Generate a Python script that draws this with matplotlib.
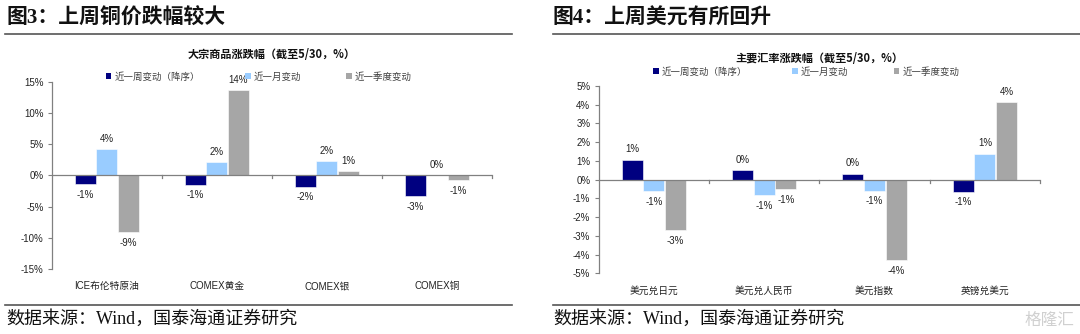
import matplotlib.pyplot as plt
from matplotlib.patches import Patch
from matplotlib.lines import Line2D
import numpy as np

# %%
# data (percent)
series_names = ['近一周变动（降序）', '近一月变动', '近一季度变动']
colors = ['#000080', '#99CCFF', '#A6A6A6']

comm_cats = ['ICE布伦特原油', 'COMEX黄金', 'COMEX银', 'COMEX铜']
comm_week = [-1.4, -1.45, -1.8, -3.3]
comm_month = [4.2, 2.1, 2.3, 0.03]
comm_quarter = [-9.1, 13.7, 0.65, -0.8]

fx_cats = ['美元兑日元', '美元兑人民币', '美元指数', '英镑兑美元']
fx_week = [1.06, 0.5, 0.32, -0.64]
fx_month = [-0.62, -0.83, -0.6, 1.38]
fx_quarter = [-2.7, -0.52, -4.3, 4.13]

lat = ['Liberation Sans', 'Noto Sans CJK SC']
ser = ['Liberation Serif', 'Noto Sans CJK SC']
plt.rcParams['font.family'] = lat

fig = plt.figure(figsize=(10.8, 3.34), dpi=100)


def bar_panel(ax, cats, vals, ylim, ystep, title, leg_y):
    x = np.arange(len(cats))
    w = 0.19
    offs = [-0.196, 0, 0.196]
    for v, off, c in zip(vals, offs, colors):
        bars = ax.bar(x + off, v, width=w, color=c, edgecolor='white', linewidth=0.4, zorder=2)
        for b, val in zip(bars, v):
            lab = '%d%%' % round(val)
            if val >= 0:
                ax.annotate(lab, (b.get_x() + b.get_width() / 2, val), xytext=(0, 4),
                            textcoords='offset points', ha='center', va='bottom',
                            fontsize=7, color='#222222')
            else:
                ax.annotate(lab, (b.get_x() + b.get_width() / 2, val), xytext=(0, -4),
                            textcoords='offset points', ha='center', va='top',
                            fontsize=7, color='#222222')
    ax.set_xlim(-0.5, len(cats) - 0.5)
    ax.set_ylim(*ylim)
    ax.set_yticks(np.arange(ylim[0], ylim[1] + 0.01, ystep))
    ax.set_yticklabels(['%d%%' % t for t in ax.get_yticks()], fontsize=7, color='#222222')
    ax.tick_params(axis='y', length=3, width=0.8, color='#808080', pad=3)
    for s in ['top', 'right', 'bottom']:
        ax.spines[s].set_visible(False)
    ax.spines['left'].set_color('#808080')
    ax.spines['left'].set_linewidth(0.9)
    # zero line with category separators
    ax.axhline(0, color='#808080', lw=0.9, zorder=3)
    tick_h = (ylim[1] - ylim[0]) * 0.016
    for xb in np.arange(0.5, len(cats), 1.0):
        ax.plot([xb, xb], [0, -tick_h], color='#808080', lw=0.9, zorder=3, clip_on=False)
    ax.set_xticks([])
    for i, c in enumerate(cats):
        ax.text(i, -0.065, c, transform=ax.get_xaxis_transform(), ha='center', va='top',
                fontsize=7, color='#222222', family=lat)
    ax.set_title(title, fontsize=8, fontweight='bold', pad=17, family=['Noto Sans CJK SC'],
                 color='#111111')
    handles = [Patch(facecolor=c, edgecolor='none') for c in colors]
    ax.legend(handles, series_names, loc='center', bbox_to_anchor=(0.47, leg_y), ncol=3,
              frameon=False, fontsize=6.8, handlelength=0.6, handleheight=0.6,
              handletextpad=0.3, columnspacing=4.8, labelcolor='#404040',
              prop={'family': ['Noto Sans CJK SC'], 'size': 6.8})


ax1 = fig.add_axes([0.0481, 0.1946, 0.4074, 0.56])
bar_panel(ax1, comm_cats, [comm_week, comm_month, comm_quarter], (-15, 15), 5,
          '大宗商品涨跌幅（截至5/30，%）', 1.027)

ax2 = fig.add_axes([0.5544, 0.1817, 0.4086, 0.5608])
bar_panel(ax2, fx_cats, [fx_week, fx_month, fx_quarter], (-5, 5), 1,
          '主要汇率涨跌幅（截至5/30，%）', 1.075)

# headers, rules and source lines
fig.text(0.006, 0.945, '图3：上周铜价跌幅较大', fontsize=15, fontweight='bold',
         family=ser, va='center', ha='left', color='#111111')
fig.text(0.512, 0.945, '图4：上周美元有所回升', fontsize=15, fontweight='bold',
         family=ser, va='center', ha='left', color='#111111')
fig.add_artist(Line2D([0.005, 0.474], [0.898, 0.898], color='#555555', lw=1.2))
fig.add_artist(Line2D([0.512, 1.0], [0.898, 0.898], color='#555555', lw=1.2))
fig.add_artist(Line2D([0.005, 0.474], [0.087, 0.087], color='#555555', lw=1.2))
fig.add_artist(Line2D([0.512, 1.0], [0.087, 0.087], color='#555555', lw=1.2))
fig.text(0.006, 0.045, '数据来源：Wind，国泰海通证券研究', fontsize=13, family=ser,
         va='center', ha='left', color='#111111')
fig.text(0.512, 0.045, '数据来源：Wind，国泰海通证券研究', fontsize=13, family=ser,
         va='center', ha='left', color='#111111')
fig.text(0.995, 0.04, '格隆汇', fontsize=12, family=['Noto Sans CJK SC'], va='center',
         ha='right', color='#d0d0d0')

fig.savefig('out.png', dpi=100)
